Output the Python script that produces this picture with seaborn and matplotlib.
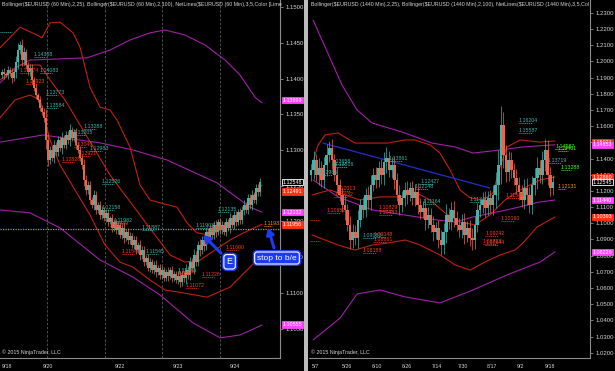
import matplotlib
matplotlib.use("Agg")
import matplotlib.pyplot as plt
from matplotlib.ticker import MultipleLocator
from matplotlib.patches import Rectangle
import seaborn as sns
import numpy as np

# ---------------- data ----------------
left_title = "Bollinger($EURUSD (60 Min),2,25), Bollinger($EURUSD (60 Min),2,100), NetLines($EURUSD (60 Min),3,5,Color [Lime"
right_title = "Bollinger($EURUSD (1440 Min),2,25), Bollinger($EURUSD (1440 Min),2,100), NetLines($EURUSD (1440 Min),3,5,Col"
copyright_text = "\u00a9 2015 NinjaTrader, LLC"

# hourly EUR/USD (left)
left_open0 = 1.1405
left_close = [
    1.1409, 1.1406, 1.1405, 1.1412, 1.1408, 1.1401, 1.1409, 1.1423, 1.1440, 1.1447,
    1.1426, 1.1437, 1.1419, 1.1409, 1.1415, 1.1398, 1.1387, 1.1377, 1.1370, 1.1359,
    1.1353, 1.1345, 1.1314, 1.1286, 1.1300, 1.1289, 1.1307, 1.1297, 1.1314, 1.1303,
    1.1317, 1.1307, 1.1321, 1.1314, 1.1328, 1.1317, 1.1325, 1.1307, 1.1300, 1.1289,
    1.1279, 1.1258, 1.1244, 1.1251, 1.1230, 1.1223, 1.1237, 1.1216, 1.1223, 1.1209,
    1.1216, 1.1205, 1.1212, 1.1199, 1.1205, 1.1191, 1.1199, 1.1188, 1.1195, 1.1181,
    1.1191, 1.1177, 1.1185, 1.1174, 1.1180, 1.1167, 1.1174, 1.1160, 1.1167, 1.1153,
    1.1160, 1.1143, 1.1149, 1.1135, 1.1143, 1.1132, 1.1139, 1.1129, 1.1135, 1.1125,
    1.1132, 1.1121, 1.1129, 1.1124, 1.1132, 1.1121, 1.1126, 1.1118, 1.1124, 1.1115,
    1.1125, 1.1121, 1.1132, 1.1125, 1.1143, 1.1135, 1.1153, 1.1143, 1.1167, 1.1160,
    1.1174, 1.1166, 1.1185, 1.1177, 1.1191, 1.1181, 1.1195, 1.1185, 1.1199, 1.1188,
    1.1195, 1.1185, 1.1199, 1.1191, 1.1205, 1.1195, 1.1209, 1.1199, 1.1213, 1.1202,
    1.1216, 1.1223, 1.1216, 1.1233, 1.1223, 1.1237, 1.1230, 1.1247, 1.1241, 1.1255,
]
left_wick = [
    4, 6, 3, 5, 4, 7, 5, 8, 10, 6, 9, 7, 5, 4, 6, 5, 4, 6, 3, 5,
    4, 6, 12, 8, 6, 5, 7, 4, 6, 5, 8, 4, 6, 5, 9, 4, 5, 6, 4, 5,
    6, 8, 7, 5, 6, 4, 7, 5, 4, 6, 5, 4, 6, 5, 3, 6, 4, 5, 6, 4,
    5, 7, 4, 6, 5, 4, 6, 5, 4, 7, 5, 6, 4, 5, 6, 4, 5, 7, 4, 5,
    6, 4, 5, 7, 4, 6, 5, 4, 6, 7, 5, 6, 8, 5, 7, 6, 9, 5, 6, 8,
    5, 7, 6, 5, 4, 6, 5, 7, 4, 6, 5, 4, 6, 5, 7, 4, 6, 5, 4, 6,
    5, 7, 4, 6, 5, 7, 4, 6, 5, 6,
]
left_xtick_pos = [0, 20.5, 56.5, 85.5, 114]
left_xtick_labels = ["9/18", "9/20", "9/22", "9/23", "9/24"]
left_sessions = [22.5, 51.5, 80, 109]
left_yticks = [1.1050, 1.1100, 1.1150, 1.1200, 1.1250, 1.1300, 1.1350, 1.1400, 1.1450, 1.1500]
left_entry_level = 1.1190

# Bollinger bands: (bar, price)
l_bb25_up = [(-1, 1.1443), (9, 1.1472), (17.5, 1.1461), (20, 1.1457), (24, 1.1478), (29, 1.1479),
             (35.5, 1.1464), (39, 1.1444), (44, 1.1388), (49, 1.1360), (54, 1.1356), (57.5, 1.1342),
             (64, 1.1304), (69, 1.1251), (74, 1.1230), (79, 1.1226), (87.5, 1.1220), (92.5, 1.1198),
             (97.5, 1.1184), (104, 1.1181), (111.5, 1.1191), (119, 1.1209), (124, 1.1230), (130, 1.1251)]
l_bb25_mid = [(-1, 1.1398), (9, 1.1419), (19, 1.1419), (24, 1.1398), (31.5, 1.1370), (39, 1.1335),
              (46.5, 1.1300), (54, 1.1265), (61.5, 1.1237), (69, 1.1209), (76.5, 1.1181), (84, 1.1153),
              (91.5, 1.1143), (99, 1.1146), (106.5, 1.1160), (114, 1.1174), (121.5, 1.1185), (130, 1.1196)]
l_bb25_lo = [(-1, 1.1345), (6.5, 1.1370), (14, 1.1377), (19, 1.1370), (24, 1.1314), (29, 1.1279),
             (36.5, 1.1244), (44, 1.1209), (51.5, 1.1167), (59, 1.1143), (65.5, 1.1136), (74, 1.1118),
             (81.5, 1.1104), (90.5, 1.1100), (102.5, 1.1094), (114, 1.1108), (124, 1.1136), (130, 1.1153)]
l_bb100_up = [(-1, 1.1394), (6.5, 1.1415), (14, 1.1426), (42.5, 1.1429), (54, 1.1440), (64, 1.1454),
              (74, 1.1464), (81.5, 1.1468), (91.5, 1.1461), (101.5, 1.1447), (111.5, 1.1426),
              (119, 1.1405), (126.5, 1.1374), (130, 1.1366)]
l_bb100_mid = [(-1, 1.1311), (20.5, 1.1321), (49, 1.1310), (65.5, 1.1300), (82.5, 1.1286),
               (107.5, 1.1254), (124, 1.1220), (130, 1.1213)]
l_bb100_lo = [(-1, 1.1216), (14, 1.1212), (29, 1.1191), (49, 1.1146), (65.5, 1.1122), (79, 1.1097),
              (95.5, 1.1058), (109, 1.1037), (119, 1.1041), (130, 1.1055)]

left_cyan_labels = [("1.14308", 16), ("1.14083", 19), ("1.13773", 22), ("1.13584", 22),
                    ("1.13288", 41), ("1.13205", 36), ("1.12983", 44), ("1.12526", 50),
                    ("1.12158", 50), ("1.11982", 56), ("1.11887", 70), ("1.11545", 72),
                    ("1.11273", 88), ("1.12135", 108), ("1.11903", 97)]
left_red_labels = [("1.14074", 9), ("1.13923", 12), ("1.13040", 36), ("1.12921", 38),
                   ("1.12828", 30), ("1.11939", 54), ("1.11540", 60), ("1.11259", 88),
                   ("1.11226", 100), ("1.11072", 92), ("1.11866", 102), ("1.11600", 112)]
left_orange_labels = [("1.11931", 131)]
left_dots = [(-1, 1.1465, "#3fb3ad")]

left_tags = [("1.13699", 1.13699, "#ff44ff"), ("1.12548", 1.12548, "#000000"),
             ("1.12491", 1.12420, "#ff3311"), ("1.12132", 1.12132, "#ff44ff"),
             ("1.11956", 1.11956, "#ff3311"), ("1.10555", 1.10555, "#ff44ff")]

# daily EUR/USD (right)
right_open0 = 1.1300
right_close = [
    1.1329, 1.1391, 1.1299, 1.1342, 1.1268, 1.1360, 1.1422, 1.1465, 1.1391, 1.1299,
    1.1237, 1.1175, 1.1113, 1.1082, 1.0990, 1.0897, 1.0946, 1.0909, 1.1020, 1.1113,
    1.1082, 1.1175, 1.1144, 1.1237, 1.1299, 1.1268, 1.1342, 1.1299, 1.1379, 1.1404,
    1.1329, 1.1360, 1.1268, 1.1175, 1.1113, 1.1156, 1.1206, 1.1175, 1.1218, 1.1156,
    1.1193, 1.1113, 1.1070, 1.1095, 1.1020, 1.1051, 1.0990, 1.0946, 1.0971, 1.0897,
    1.0866, 1.0946, 1.1051, 1.1008, 1.1082, 1.1033, 1.0990, 1.0959, 1.1008, 1.0928,
    1.0971, 1.0909, 1.0897, 1.0990, 1.1082, 1.1113, 1.1144, 1.1095, 1.1156, 1.1113,
    1.1175, 1.1237, 1.1360, 1.1607, 1.1422, 1.1317, 1.1391, 1.1329, 1.1280, 1.1237,
    1.1193, 1.1144, 1.1218, 1.1175, 1.1113, 1.1237, 1.1280, 1.1342, 1.1299, 1.1391,
    1.1453, 1.1299, 1.1218, 1.1255,
]
right_wick = [
    40, 55, 35, 60, 45, 50, 70, 45, 55, 40, 50, 35, 45, 60, 40, 55, 50, 45, 60, 40,
    50, 45, 55, 60, 40, 50, 45, 55, 60, 70, 45, 50, 55, 40, 60, 45, 50, 55, 40, 45,
    50, 55, 45, 40, 60, 50, 45, 55, 40, 50, 60, 55, 70, 45, 50, 55, 40, 45, 50, 55,
    45, 50, 60, 55, 45, 40, 50, 55, 45, 50, 60, 80, 90, 115, 80, 60, 55, 50, 45, 55,
    50, 45, 55, 60, 50, 55, 60, 65, 50, 55, 70, 60, 50, 45,
]
right_xtick_pos = [0.4, 11.9, 23.5, 35, 46.5, 56.5, 67.7, 79.2, 90]
right_xtick_labels = ["5/7", "5/26", "6/10", "6/26", "7/14", "7/30", "8/17", "9/2", "9/18"]
right_yticks = [1.02, 1.03, 1.04, 1.05, 1.06, 1.07, 1.08, 1.09, 1.10, 1.11, 1.12, 1.13,
                1.14, 1.15, 1.16, 1.17, 1.18, 1.19, 1.20, 1.21, 1.22, 1.23]

r_bb25_up = [(0.4, 1.1360), (2.7, 1.1484), (5.4, 1.1546), (10.4, 1.1558), (16.9, 1.1496),
             (23.5, 1.1496), (29.6, 1.1496), (36.2, 1.1515), (40, 1.1515), (45.8, 1.1484),
             (49.6, 1.1434), (53.5, 1.1329), (57.3, 1.1206), (61.2, 1.1157), (66.2, 1.1144),
             (70, 1.1188), (72.7, 1.1348), (75.4, 1.1472), (80.4, 1.1515), (88.1, 1.1502),
             (93.8, 1.1509)]
r_bb25_mid = [(0.4, 1.1175), (7.3, 1.1206), (13.1, 1.1175), (18.8, 1.1144), (26.5, 1.1163),
              (34.2, 1.1163), (40, 1.1193), (45.8, 1.1144), (51.5, 1.1064), (57.3, 1.1008),
              (63.1, 1.0990), (68.8, 1.1051), (74.6, 1.1144), (80.4, 1.1206), (88.1, 1.1268),
              (93.8, 1.1286)]
r_bb25_lo = [(0.4, 1.0928), (5.4, 1.0897), (10.4, 1.0866), (16.9, 1.0835), (23.5, 1.0866),
             (29.6, 1.0878), (36.2, 1.0897), (41.9, 1.0866), (49.6, 1.0804), (55.4, 1.0743),
             (61.2, 1.0711), (66.9, 1.0761), (72.7, 1.0804), (78.5, 1.0835), (81.5, 1.0878),
             (86.9, 1.0977), (93.8, 1.1039)]
r_bb100_up = [(0.8, 1.2256), (11.9, 1.1855), (17.7, 1.1700), (23.5, 1.1620), (36.2, 1.1558),
              (46.5, 1.1496), (55.4, 1.1472), (62.3, 1.1434), (72.7, 1.1453), (81.5, 1.1472),
              (93.8, 1.1485)]
r_bb100_mid = [(0.8, 1.1268), (10.4, 1.1163), (23.5, 1.1083), (36.2, 1.1051), (48.8, 1.1020),
               (55.4, 1.1008), (62.3, 1.1039), (75.4, 1.1083), (88.1, 1.1132), (93.8, 1.1144)]
r_bb100_lo = [(0.8, 1.0279), (11.2, 1.0415), (17.7, 1.0563), (26.5, 1.0588), (36.2, 1.0545),
              (49.6, 1.0508), (62.3, 1.0588), (75.4, 1.0681), (88.1, 1.0761), (93.8, 1.0823)]
r_trend = [(4.6, 1.1496), (68.8, 1.1218)]

right_cyan_labels = [("1.13658", 8), ("1.13506", 9), ("1.12986", 3), ("1.13861", 30),
                     ("1.12427", 42), ("1.12148", 40), ("1.11164", 43), ("1.09083", 20),
                     ("1.11340", 61), ("1.16204", 80), ("1.15587", 80), ("1.13719", 91)]
right_red_labels = [("1.12013", 10), ("1.11632", 9), ("1.10652", 6), ("1.10829", 26),
                    ("1.10483", 26), ("1.09148", 24), ("1.08861", 24), ("1.08188", 20),
                    ("1.11580", 75), ("1.10160", 73), ("1.09242", 67), ("1.08723", 66),
                    ("1.08644", 67)]
right_green_labels = [("1.14587", 94), ("1.14461", 95), ("1.13288", 96)]
right_orange_labels = [("1.12131", 95)]
right_dots = [(-0.5, 1.1020, "#ff3a1a"), (-0.5, 1.0890, "#ff3a1a")]

right_tags = [("1.15021", 1.15021, "#ff3311"), ("1.14853", 1.14853, "#ff44ff"),
              ("1.12860", 1.12860, "#ff3311"), ("1.12545", 1.12545, "#000000"),
              ("1.11440", 1.11440, "#ff44ff"), ("1.10393", 1.10393, "#ff3311"),
              ("1.08226", 1.08226, "#ff44ff")]

# ---------------- style ----------------
sns.set_style("dark", {"axes.facecolor": "black", "figure.facecolor": "black"})
plt.rcParams['font.family'] = ['Liberation Sans', 'DejaVu Sans']

UP = "#45b3aa"
DN = "#e8664f"
BB25 = "#c0200f"
BB100 = "#a020a8"
CYAN = "#3fb3ad"
RED = "#ff3a1a"
ORANGE = "#ff8c1a"
GREEN = "#3cff2a"
GRID = "#8c8c8c"
TXT = "#d6d6d6"
FS = 3.8
FS_TICK = 4.3

fig = plt.figure(figsize=(6.15, 3.71), dpi=100, facecolor="black")
W, H = 615.0, 371.0
axL = fig.add_axes([0 / W, 13 / H, 280 / W, 358 / H])
axR = fig.add_axes([309 / W, 13 / H, 281 / W, 358 / H])
fig.patches.append(Rectangle((303.5 / W, 0), 4 / W, 1, transform=fig.transFigure,
                             facecolor="#bdbdbd", edgecolor="none", zorder=5))


def draw_candles(ax, open0, close, wick_pips, width):
    close = np.asarray(close, dtype=float)
    opens = np.concatenate([[open0], close[:-1]])
    w = np.asarray(wick_pips, dtype=float) * 1e-4
    x = np.arange(len(close))
    hi = np.maximum(opens, close) + w
    lo = np.minimum(opens, close) - w
    cols = np.where(close >= opens, UP, DN)
    ax.vlines(x, lo, hi, colors=cols, lw=0.5, zorder=3)
    body = np.maximum(np.abs(close - opens), 0.00004)
    ax.bar(x, body, bottom=np.minimum(opens, close), width=width, color=cols,
           linewidth=0, zorder=4)


def band(ax, pts, color, lw=0.8):
    xs = [p[0] for p in pts]
    ys = [p[1] for p in pts]
    sns.lineplot(x=xs, y=ys, ax=ax, color=color, lw=lw, legend=False, zorder=2,
                 estimator=None, sort=False)


def labels(ax, items, color, dot_len):
    for txt, xb in items:
        v = float(txt)
        ax.text(xb, v, txt, fontsize=FS, color=color, ha="left", va="bottom", zorder=6,
                clip_on=True)
        ax.plot([xb, xb + dot_len], [v, v], ls=(0, (1, 1)), color=color, lw=0.7, zorder=6)


def dots(ax, items, dot_len):
    for xb, v, col in items:
        ax.plot([xb, xb + dot_len], [v, v], ls=(0, (1, 1)), color=col, lw=0.7, zorder=6)


def tags(ax, items):
    tr = ax.get_yaxis_transform()
    for txt, v, col in items:
        ec = "white" if col == "#000000" else col
        ax.text(1.01, v, txt, transform=tr, fontsize=3.9, color="white", ha="left",
                va="center", zorder=20, clip_on=False,
                bbox=dict(boxstyle="square,pad=0.12", fc=col, ec=ec, lw=0.6))


def fit_title(ax, title, width_px):
    t = ax.text(0.006, 0.995, title, transform=ax.transAxes, fontsize=FS, color=TXT,
                ha="left", va="top", zorder=7)
    r = fig.canvas.get_renderer()
    w = t.get_window_extent(renderer=r).width
    if w > width_px:
        t.set_fontsize(FS * width_px / w)


def style_axes(ax, title):
    ax.set_facecolor("black")
    for s in ["top", "left"]:
        ax.spines[s].set_visible(False)
    for s in ["right", "bottom"]:
        ax.spines[s].set_color(GRID)
        ax.spines[s].set_linewidth(0.8)
    ax.yaxis.tick_right()
    ax.tick_params(axis="both", colors=GRID, labelcolor=TXT, labelsize=FS, length=2.5,
                   width=0.6, pad=1.5, direction="out")
    ax.tick_params(axis="y", labelsize=FS_TICK)
    ax.yaxis.set_major_formatter(plt.FormatStrFormatter("%.4f"))
    ax.grid(False)
    ax.set_xlabel("")
    ax.set_ylabel("")
    fit_title(ax, title, 276)
    ax.text(0.006, 0.008, copyright_text, transform=ax.transAxes, fontsize=FS,
            color=TXT, ha="left", va="bottom", zorder=7)


# ---------------- left panel ----------------
axL.set_xlim(-1, 139)
axL.set_ylim(1.10088, 1.1510)
for s in left_sessions:
    axL.axvline(s, color="#5a5a5a", lw=0.6, ls=(0, (3, 2)), zorder=1)
band(axL, l_bb100_up, BB100)
band(axL, l_bb100_mid, BB100)
band(axL, l_bb100_lo, BB100)
band(axL, l_bb25_up, BB25)
band(axL, l_bb25_mid, BB25)
band(axL, l_bb25_lo, BB25)
draw_candles(axL, left_open0, left_close, left_wick, 0.75)
axL.axhline(left_entry_level, color="#9aa81e", lw=0.9, ls=(0, (1, 1)), zorder=5)
labels(axL, left_cyan_labels, CYAN, 6)
labels(axL, left_red_labels, RED, 6)
labels(axL, left_orange_labels, ORANGE, 4)
dots(axL, left_dots, 6)
axL.set_yticks(left_yticks)
axL.set_xticks(left_xtick_pos)
axL.set_xticklabels(left_xtick_labels)
style_axes(axL, left_title)
for lab in axL.get_xticklabels():
    lab.set_ha("left")
tags(axL, left_tags)


def boxed(ax, text, xy, xytext, fs):
    ax.annotate(text, xy=xy, xytext=xytext, fontsize=fs, color="white", ha="center",
                va="center", zorder=30, annotation_clip=False,
                bbox=dict(boxstyle="round,pad=0.3", fc="#1b3cf0", ec="#1b3cf0", lw=3),
                arrowprops=dict(arrowstyle="-|>,head_width=0.35,head_length=0.6",
                                color="#1b3cf0", lw=2.2, shrinkA=2, shrinkB=0))
    ax.text(xytext[0], xytext[1], text, fontsize=fs, color="white", ha="center",
            va="center", zorder=31, clip_on=False,
            bbox=dict(boxstyle="round,pad=0.3", fc="#1b3cf0", ec="white", lw=0.8))


boxed(axL, "E", (100.5, 1.1181), (113.8, 1.11435), 6.5)
boxed(axL, "stop to b/e", (133, 1.1191), (137.5, 1.11488), 6.0)

# ---------------- right panel ----------------
axR.set_xlim(-0.77, 107.3)
axR.set_ylim(1.01676, 1.2380)
band(axR, r_bb100_up, BB100)
band(axR, r_bb100_mid, BB100)
band(axR, r_bb100_lo, BB100)
band(axR, r_bb25_up, BB25)
band(axR, r_bb25_mid, BB25)
band(axR, r_bb25_lo, BB25)
sns.lineplot(x=[p[0] for p in r_trend], y=[p[1] for p in r_trend], ax=axR,
             color="#1f2fd0", lw=0.9, legend=False, zorder=2)
draw_candles(axR, right_open0, right_close, right_wick, 1.0)
labels(axR, right_cyan_labels, CYAN, 5)
labels(axR, right_red_labels, RED, 5)
labels(axR, right_green_labels, GREEN, 4)
labels(axR, right_orange_labels, ORANGE, 3)
dots(axR, right_dots, 4)
axR.set_yticks(right_yticks)
axR.set_xticks(right_xtick_pos)
axR.set_xticklabels(right_xtick_labels)
axR.xaxis.set_minor_locator(MultipleLocator(1.5))
axR.tick_params(axis="x", which="minor", length=1.5, width=0.5, colors=GRID)
style_axes(axR, right_title)
for lab in axR.get_xticklabels():
    lab.set_ha("left")
tags(axR, right_tags)

fig.savefig("out.png", dpi=100, facecolor="black")
